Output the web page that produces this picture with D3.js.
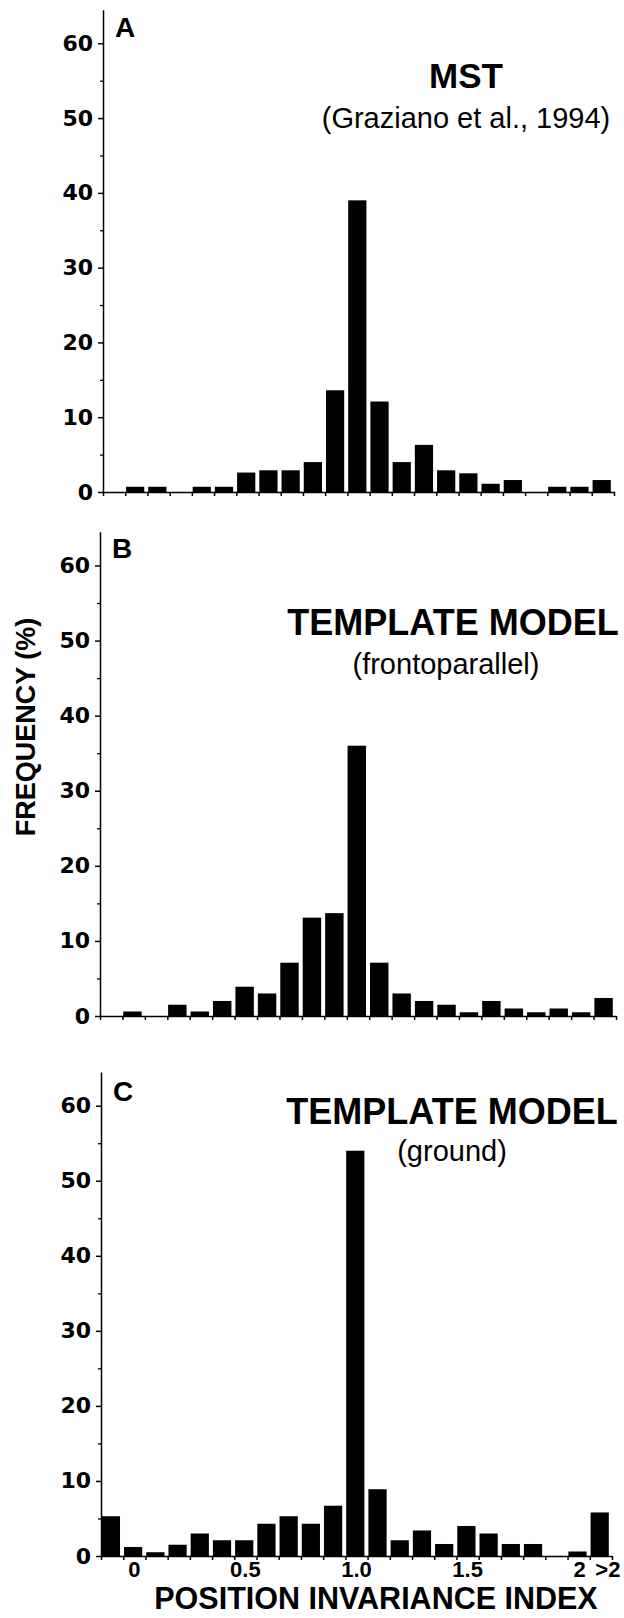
<!DOCTYPE html>
<html><head><meta charset="utf-8">
<script src="https://cdn.jsdelivr.net/npm/d3@7"></script>
<style>
html,body{margin:0;padding:0;background:#fff;}
svg text{fill:#000;}
</style>
</head><body>
<script>
// ---- data ----
const categories = ["-0.1","0","0.1","0.2","0.3","0.4","0.5","0.6","0.7","0.8","0.9","1.0","1.1","1.2","1.3","1.4","1.5","1.6","1.7","1.8","1.9","2.0",">2"];
const mstValues    = [0,0.7,0.7,0,0.7,0.7,2.6,2.9,2.9,4.0,13.6,39,12.1,4.0,6.3,2.9,2.5,1.1,1.6,0,0.7,0.7,1.6];
const frontoValues = [0,0.6,0,1.5,0.6,2.0,3.9,3.0,7.1,13.1,13.7,36,7.1,3.0,2.0,1.5,0.5,2.0,1.0,0.5,1.0,0.5,2.4];
const groundValues = [5.3,1.2,0.5,1.5,3.0,2.1,2.1,4.3,5.3,4.3,6.7,54,8.9,2.1,3.4,1.6,4.0,3.0,1.6,1.6,0,0.6,5.8];
const yTicks = [0,10,20,30,40,50,60];
const yMinorTicks = [5,15,25,35,45,55];
const xTickLabels = [["0",1],["0.5",6],["1.0",11],["1.5",16],["2",21],[">2",22]];
const panelLetters = ["A","B","C"];
const titles = ["MST","TEMPLATE MODEL","TEMPLATE MODEL"];
const subtitles = ["(Graziano et al., 1994)","(frontoparallel)","(ground)"];
const yLabel = "FREQUENCY (%)";
const xLabel = "POSITION INVARIANCE INDEX";

// ---- layout ----
const W = 624, H = 1618;
const SANS = "'Liberation Sans', Arial, Helvetica, sans-serif";
const WIDE = "'DejaVu Sans', 'Liberation Sans', Arial, sans-serif";
const panels = [
  {values: mstValues,    x0:103, x1:614, zero:492,  y60:43.3,  letterV:60.9, titleV:54.0, subV:48.7, titleX:466, subX:466, titleSize:35},
  {values: frontoValues, x0:100, x1:616, zero:1016, y60:565.5, letterV:61.0, titleV:50.7, subV:45.5, titleX:453, subX:446, titleSize:36},
  {values: groundValues, x0:101, x1:612, zero:1556, y60:1105.7,letterV:60.6, titleV:57.5, subV:52.6, titleX:452, subX:452, titleSize:36}
];

const svg = d3.select("body").append("svg").attr("width",W).attr("height",H);

panels.forEach((p,pi)=>{
  const top = 64.5;
  const y = d3.scaleLinear().domain([0,top]).range([p.zero, p.zero - (p.zero-p.y60)/60*top]);
  const x = d3.scaleLinear().domain([0,categories.length]).range([p.x0,p.x1]);
  const g = svg.append("g");

  // bars
  g.selectAll("rect").data(p.values).join("rect")
    .attr("x",(d,i)=>x(i)+0.8)
    .attr("width",(d,i)=>x(i+1)-x(i)-4)
    .attr("y",d=>y(d))
    .attr("height",d=>y(0)-y(d))
    .attr("fill","#000");

  // y axis major
  const ya = g.append("g").attr("transform",`translate(${p.x0},0)`)
    .call(d3.axisLeft(y).tickValues(yTicks).tickSize(5).tickSizeOuter(0).tickPadding(5));
  ya.attr("font-size",null).attr("font-family",null);
  ya.selectAll("text").style("font-size","22px").style("font-weight","bold").style("font-family",WIDE);
  ya.selectAll("line,path").attr("stroke","#000").attr("stroke-width",1.5);
  // minor
  const ym = g.append("g").attr("transform",`translate(${p.x0},0)`)
    .call(d3.axisLeft(y).tickValues(yMinorTicks).tickSize(3).tickSizeOuter(0));
  ym.select(".domain").remove();
  ym.selectAll("text").remove();
  ym.selectAll("line").attr("stroke","#000").attr("stroke-width",1.3);

  // x axis
  const xa = g.append("g").attr("transform",`translate(0,${p.zero})`)
    .call(d3.axisBottom(x).tickValues(d3.range(0,categories.length+1)).tickSize(4).tickSizeOuter(0));
  xa.selectAll("text").remove();
  xa.selectAll("line,path").attr("stroke","#000").attr("stroke-width",1.5);

  // letter
  g.append("text").attr("x",p.x0+12).attr("y",y(p.letterV))
    .style("font-family",SANS).style("font-size","28px").style("font-weight","bold").text(panelLetters[pi]);
  // titles
  g.append("text").attr("x",p.titleX).attr("y",y(p.titleV)).attr("text-anchor","middle")
    .style("font-family",SANS).style("font-size",p.titleSize+"px").style("font-weight","bold").text(titles[pi]);
  g.append("text").attr("x",p.subX).attr("y",y(p.subV)).attr("text-anchor","middle")
    .style("font-family",SANS).style("font-size","29px").text(subtitles[pi]);

  if(pi===2){
    const shift = d => d[1] === 21 ? 1 : (d[1] === 22 ? 7 : 0);
    g.selectAll("text.xl").data(xTickLabels).join("text").attr("class","xl")
      .attr("x",d=>x(d[1]+0.5)+shift(d)).attr("y",p.zero+21).attr("text-anchor","middle")
      .style("font-family",SANS).style("font-size","22px").style("font-weight","bold").text(d=>d[0]);
    g.append("text").attr("x",376).attr("y",1609).attr("text-anchor","middle")
      .style("font-family",SANS).style("font-size","30.5px").style("font-weight","bold").text(xLabel);
  }
});

svg.append("text").attr("transform","translate(35,727) rotate(-90)").attr("text-anchor","middle")
  .style("font-family",SANS).style("font-size","27px").style("font-weight","bold").text(yLabel);
</script>
</body></html>
